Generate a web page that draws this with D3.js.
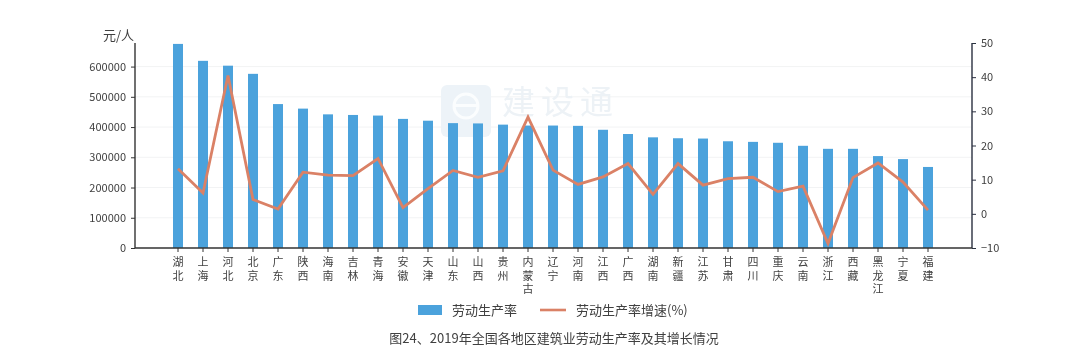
<!DOCTYPE html>
<html>
<head>
<meta charset="utf-8">
<script src="https://cdn.jsdelivr.net/npm/d3@7"></script>
<style>
  html, body { margin: 0; padding: 0; background: #fff; }
  text { font-family: "Noto Sans CJK SC", "Noto Sans", sans-serif; }
</style>
</head>
<body>
<div id="chart"></div>
<script>
// 数据
var regions = ["湖北","上海","河北","北京","广东","陕西","海南","吉林","青海","安徽","天津","山东","山西","贵州","内蒙古","辽宁","河南","江西","广西","湖南","新疆","江苏","甘肃","四川","重庆","云南","浙江","西藏","黑龙江","宁夏","福建"];
var productivity = [675000,619000,603000,576000,476000,461000,442000,440000,438000,427000,421000,413000,412000,408000,405000,405000,404000,391000,377000,366000,363000,362000,353000,351000,348000,338000,328000,328000,304000,294000,268000];
var growth = [13.2,6.1,40.5,4.2,1.4,12.2,11.3,11.2,16.2,1.8,7.4,12.7,10.7,12.6,28.3,12.8,8.6,10.8,14.7,5.7,14.7,8.4,10.3,10.7,6.5,8.1,-8.7,10.6,14.9,9.3,1.1];
var leftTicks = [0,100000,200000,300000,400000,500000,600000];
var rightTicks = [-10,0,10,20,30,40,50];
var legendNames = ["劳动生产率","劳动生产率增速(%)"];
var unitLabel = "元/人";
var caption = "图24、2019年全国各地区建筑业劳动生产率及其增长情况";
var watermark = "建设通";

var width = 1080, height = 354;
var margin = {top: 43, bottom: 106, left: 135, right: 108};
var barColor = "#4ba2dc", lineColor = "#da8166", textColor = "#404040";

var svg = d3.select("#chart").append("svg")
    .attr("width", width)
    .attr("height", height)
    .style("display", "block");

// slight softness, the reference is a rescaled picture
svg.append("defs").append("filter")
    .attr("id", "soft")
    .append("feGaussianBlur")
    .attr("stdDeviation", 0.45);

var root = svg.append("g").attr("filter", "url(#soft)");

// bands 25px apart, first one centred on x=178
var x = d3.scaleBand()
    .domain(regions)
    .range([173, 933])
    .paddingInner(0.6)
    .paddingOuter(0);

var baseY = height - margin.bottom;
var y = d3.scaleLinear().domain([0, 678000]).range([baseY, margin.top]);
var y2 = d3.scaleLinear().domain([-10, 50]).range([baseY, margin.top]);
var rightX = width - margin.right;

// Grid
root.append("g").selectAll("line")
    .data(leftTicks.slice(1))
    .join("line")
    .attr("x1", margin.left)
    .attr("x2", rightX)
    .attr("y1", d => y(d))
    .attr("y2", d => y(d))
    .attr("stroke", "#f2f3f4")
    .attr("stroke-width", 1);

// Watermark
var mark = root.append("g");
mark.append("rect")
    .attr("x", 441).attr("y", 85)
    .attr("width", 50).attr("height", 52)
    .attr("rx", 6)
    .attr("fill", "#edf3f8");
mark.append("circle")
    .attr("cx", 466).attr("cy", 106).attr("r", 12)
    .attr("fill", "none")
    .attr("stroke", "#fbfdfe")
    .attr("stroke-width", 3);
mark.append("rect")
    .attr("x", 453).attr("y", 104)
    .attr("width", 26).attr("height", 3)
    .attr("fill", "#fbfdfe");
mark.append("text")
    .attr("x", 502).attr("y", 114)
    .attr("font-size", 33)
    .attr("letter-spacing", 6)
    .attr("fill", "#edf2f6")
    .text(watermark);

// Bars
root.append("g").selectAll("rect")
    .data(productivity)
    .join("rect")
    .attr("x", (d, i) => x(regions[i]))
    .attr("y", d => y(d))
    .attr("width", x.bandwidth())
    .attr("height", d => baseY - y(d))
    .attr("fill", barColor);

// Line
var line = d3.line()
    .x((d, i) => x(regions[i]) + x.bandwidth() / 2)
    .y(d => y2(d));

root.append("path")
    .datum(growth)
    .attr("d", line)
    .attr("fill", "none")
    .attr("stroke", lineColor)
    .attr("stroke-width", 2.8);

// Axes
var leftAxis = root.append("g")
    .attr("transform", `translate(${margin.left},0)`)
    .call(d3.axisLeft(y).tickValues(leftTicks).tickFormat(d3.format("d")).tickSize(4).tickPadding(5));
leftAxis.selectAll("text").attr("font-size", 11).attr("fill", textColor);
leftAxis.selectAll("line").attr("stroke", "#333");
leftAxis.select(".domain").attr("stroke", "#333").attr("stroke-width", 1.4)
    .attr("d", `M0,${baseY}V${margin.top}`);

var rightAxis = root.append("g")
    .attr("transform", `translate(${rightX},0)`)
    .call(d3.axisRight(y2).tickValues(rightTicks).tickSize(4).tickPadding(5));
rightAxis.selectAll("text").attr("font-size", 11).attr("fill", textColor);
rightAxis.selectAll("line").attr("stroke", "#2a3040");
rightAxis.select(".domain").attr("stroke", "#2a3040").attr("stroke-width", 1.4)
    .attr("d", `M0,${baseY}V${margin.top}`);

// X axis, labels stacked one character per row
var bottomAxis = root.append("g")
    .attr("transform", `translate(0,${baseY})`)
    .call(d3.axisBottom(x).tickSize(4).tickFormat(""));
bottomAxis.select(".domain").attr("stroke", "#333").attr("stroke-width", 1.6)
    .attr("d", `M${margin.left},0H${rightX}`);
bottomAxis.selectAll("line").attr("stroke", "#333");
bottomAxis.selectAll(".tick").each(function(d) {
    var t = d3.select(this).select("text")
        .attr("y", 18)
        .attr("dy", null)
        .attr("font-size", 11)
        .attr("fill", textColor);
    t.selectAll("tspan")
        .data(Array.from(d))
        .join("tspan")
        .attr("x", 0)
        .attr("y", (c, i) => 18 + i * 13.5)
        .text(c => c);
});

// Unit
root.append("text")
    .attr("x", 103).attr("y", 40)
    .attr("font-size", 13)
    .attr("fill", textColor)
    .text(unitLabel);

// Legend
root.append("rect")
    .attr("x", 418).attr("y", 305)
    .attr("width", 24).attr("height", 10)
    .attr("fill", barColor);
root.append("text")
    .attr("x", 452).attr("y", 315)
    .attr("font-size", 13)
    .attr("fill", textColor)
    .text(legendNames[0]);
root.append("line")
    .attr("x1", 540).attr("x2", 566)
    .attr("y1", 310).attr("y2", 310)
    .attr("stroke", lineColor)
    .attr("stroke-width", 2.6);
root.append("text")
    .attr("x", 576).attr("y", 315)
    .attr("font-size", 13)
    .attr("fill", textColor)
    .text(legendNames[1]);

// Caption
root.append("text")
    .attr("x", 554).attr("y", 343)
    .attr("text-anchor", "middle")
    .attr("font-size", 13)
    .attr("fill", textColor)
    .text(caption);
</script>
</body>
</html>
